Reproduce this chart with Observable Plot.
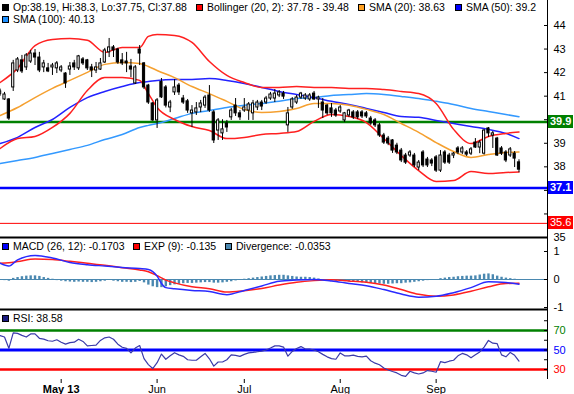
<!DOCTYPE html>
<html><head><meta charset="utf-8">
<script src="https://cdn.jsdelivr.net/npm/d3@7"></script>
<script src="https://cdn.jsdelivr.net/npm/@observablehq/plot@0.6"></script>
<style>
body{margin:0;background:#fff;}
#chart{position:relative;width:574px;height:394px;font-family:"Liberation Sans",Arial,sans-serif;overflow:hidden;background:#fff;}
#chart svg{display:block;}
.leg{position:absolute;font-size:10.5px;line-height:12px;white-space:nowrap;color:#000;}
.sq{position:absolute;width:5px;height:5px;border:1px solid #000;}
.lvl{position:absolute;left:548px;height:13px;line-height:13px;font-size:11px;color:#fff;padding:0 2px;}
</style></head><body><div id="chart"></div>
<script>
// ---- data ----
const xDomain = [0.083, 125.54];
const monthTicks = [14, 36, 56, 78, 100];
const monthLabels = ["May 13", "Jun", "Jul", "Aug", "Sep"];

const open = [41.1,40.86,40.86,41.37,42.09,42.52,42.22,42.47,42.81,42.64,
42.22,42.18,42.22,42.18,42.09,41.96,42.13,42.39,42.18,42.56,
42.52,42.22,42.09,42.13,42.43,42.86,43.07,42.98,42.52,42.47,
42.26,41.54,42.98,42.39,41.45,40.69,39.97,41.6,41.37,40.52,
41.16,41.45,40.9,40.78,40.27,40.31,40.52,40.6,41.03,40.31,
39.54,39.42,39.84,40.1,40.6,40.27,40.39,40.39,40.27,40.52,
40.73,40.73,40.9,40.9,41.03,41.11,39.76,40.52,40.73,40.94,
40.9,40.86,41.11,40.86,40.73,40.6,40.48,40.39,40.35,39.97,
40.18,40.31,40.31,40.31,40.27,40.05,39.97,39.76,39.33,39.2,
39.12,38.9,38.69,38.48,38.48,38.48,37.97,38.61,38.31,38.27,
38.4,37.84,38.61,38.48,38.48,38.78,38.61,38.61,38.56,39.03,
38.82,38.56,39.63,39.33,39.2,38.78,38.61,38.48,38.56,38.19];
const high = [41.3,41.16,40.9,42.52,42.64,42.73,42.81,42.94,42.98,42.86,
42.52,42.39,42.39,42.47,42.3,42.0,42.43,42.52,42.73,42.64,
42.56,42.35,42.43,42.6,43.03,43.45,43.15,43.03,42.81,42.86,
42.56,42.3,43.15,42.43,41.5,40.73,40.9,41.75,41.45,40.82,
41.7,41.54,41.03,40.86,40.6,40.73,40.82,41.03,41.45,40.39,
40.05,40.0,39.97,40.48,40.9,40.39,40.9,40.73,40.82,40.82,
40.82,40.99,41.16,41.28,41.24,41.2,40.52,40.94,41.03,41.16,
41.11,41.11,41.2,41.0,40.9,40.65,40.69,40.48,40.6,40.31,
40.44,40.39,40.39,40.39,40.35,40.14,40.05,39.84,39.42,39.29,
39.16,39.0,38.78,38.57,38.69,38.57,38.27,38.69,38.4,38.35,
38.48,38.69,38.69,38.57,38.61,38.86,38.86,38.69,38.82,39.2,
39.12,39.59,39.67,39.5,39.25,38.86,38.69,38.82,38.65,38.3];
const low = [41.0,40.82,39.97,41.2,42.0,41.96,42.09,42.39,42.3,42.0,
42.0,42.0,41.88,41.96,42.0,41.33,41.88,42.09,42.09,42.3,
42.09,41.79,41.96,42.09,42.39,42.64,42.64,42.35,42.3,42.0,
41.79,41.5,42.3,41.28,40.65,39.93,39.63,40.9,40.5,40.3,
41.03,41.03,40.65,40.27,39.67,40.18,40.3,40.48,40.31,38.99,
39.12,39.12,39.46,39.97,40.14,39.97,40.31,39.97,39.97,40.39,
40.39,40.65,40.82,40.73,40.94,40.86,39.46,40.44,40.65,40.86,
40.82,40.78,40.82,40.48,40.05,40.18,40.1,40.1,40.27,39.88,
40.1,40.01,40.01,40.05,40.05,39.76,39.67,39.25,38.95,38.9,
38.57,38.52,38.18,38.1,38.4,37.97,37.84,37.97,37.97,38.01,
37.76,37.76,38.1,38.1,38.35,38.52,38.52,38.44,38.48,38.78,
38.56,38.5,39.25,38.78,38.44,38.48,38.18,38.4,37.97,37.75];
const close = [41.2,41.07,40.05,42.39,42.56,42.05,42.73,42.81,42.64,42.09,
42.39,42.05,42.3,42.39,42.22,41.54,42.26,42.22,42.69,42.39,
42.18,42.09,42.22,42.39,42.94,43.07,42.94,42.43,42.39,42.39,
42.13,42.22,42.81,41.37,40.73,39.97,40.82,40.95,40.6,40.73,
41.37,41.16,40.73,40.39,40.39,40.48,40.69,40.94,40.39,39.12,
39.97,39.59,39.67,40.39,40.27,40.1,40.52,40.65,40.69,40.73,
40.56,40.9,41.07,41.11,41.16,40.98,40.27,40.86,40.94,41.11,
41.03,41.03,40.86,40.94,40.39,40.27,40.27,40.18,40.52,40.27,
40.39,40.1,40.1,40.14,40.14,39.84,39.76,39.33,39.03,38.99,
38.69,38.61,38.27,38.18,38.61,38.06,38.18,38.06,38.06,38.14,
37.84,38.48,38.18,38.18,38.56,38.61,38.78,38.52,38.74,38.82,
39.03,39.54,39.42,39.42,38.48,38.56,38.27,38.74,38.35,37.88];

const smoothIdx = [0,4,8,12,16,20,24,28,32,34,36,40,44,48,52,56,60,64,68,72,76,80,84,88,92,96,100,104,108,112,116,119];
const bbUpper = [41.58,42.18,43.15,43.41,43.45,43.37,42.86,43.07,43.07,43.54,43.62,43.58,43.28,42.47,41.88,41.58,41.37,41.37,41.41,41.37,41.37,41.33,41.33,41.28,41.2,41.11,40.69,39.59,38.99,39.29,39.42,39.48];
const bbLower = [38.78,39.2,39.29,39.67,40.27,41.24,41.79,41.79,41.67,41.11,40.52,40.01,39.71,39.54,39.2,39.25,39.37,39.42,39.5,39.93,40.22,40.14,39.88,39.2,38.48,37.84,37.38,37.42,37.8,37.72,37.76,37.78];
const sma20 = [40.18,40.52,40.94,41.33,41.67,42.01,42.35,42.43,42.39,42.26,42.09,41.79,41.41,41.11,40.78,40.44,40.31,40.35,40.48,40.69,40.69,40.61,40.44,40.22,39.84,39.46,39.03,38.65,38.4,38.52,38.61,38.63];
const sma50 = [38.99,39.25,39.67,40.01,40.52,40.94,41.2,41.41,41.58,41.62,41.67,41.71,41.71,41.75,41.67,41.54,41.37,41.2,41.07,40.94,40.78,40.65,40.48,40.31,40.14,40.1,39.97,39.84,39.71,39.59,39.42,39.2];
const sma100 = [38.14,38.27,38.4,38.57,38.74,38.91,39.16,39.37,39.67,39.76,39.84,40.05,40.27,40.39,40.52,40.61,40.69,40.78,40.9,40.94,41.03,41.07,41.11,41.07,40.99,40.9,40.78,40.65,40.48,40.35,40.22,40.13];

const macdIdx = [0,2,4,8,12,16,20,24,28,32,34,36,37,38,40,44,48,52,56,60,64,68,72,76,80,84,88,92,96,100,104,108,112,116,119];
const macdLine = [0.58,0.48,0.70,0.86,0.77,0.61,0.53,0.48,0.43,0.39,0.36,0.12,-0.14,-0.29,-0.33,-0.39,-0.43,-0.54,-0.39,-0.23,-0.06,-0.02,0.0,-0.05,-0.14,-0.22,-0.36,-0.52,-0.63,-0.6,-0.47,-0.29,-0.08,-0.11,-0.17];
const signalLine = [0.58,0.6,0.64,0.73,0.71,0.65,0.58,0.51,0.42,0.34,0.28,0.14,0.06,-0.02,-0.12,-0.26,-0.33,-0.45,-0.4,-0.32,-0.2,-0.1,-0.04,-0.01,-0.05,-0.1,-0.2,-0.36,-0.53,-0.6,-0.55,-0.42,-0.26,-0.14,-0.135];
const divergence = [-0.03,-0.04,-0.06,0.04,0.07,0.1,0.12,0.13,0.13,0.11,
0.07,0.04,0.01,-0.04,-0.06,-0.08,-0.09,-0.1,-0.09,-0.1,
-0.1,-0.11,-0.1,-0.08,-0.06,-0.03,-0.06,-0.08,-0.1,-0.1,
-0.11,-0.1,-0.07,-0.12,-0.2,-0.26,-0.29,-0.29,-0.26,-0.22,
-0.19,-0.17,-0.15,-0.14,-0.14,-0.13,-0.12,-0.11,-0.11,-0.13,
-0.13,-0.12,-0.1,-0.08,-0.05,-0.02,0.01,0.03,0.05,0.07,
0.09,0.11,0.13,0.14,0.15,0.15,0.13,0.11,0.09,0.08,
0.08,0.07,0.05,0.02,-0.03,-0.05,-0.05,-0.06,-0.07,-0.08,
-0.09,-0.1,-0.1,-0.12,-0.13,-0.14,-0.15,-0.16,-0.17,-0.17,
-0.16,-0.15,-0.15,-0.13,-0.12,-0.1,-0.08,-0.06,-0.04,-0.02,
0.0,0.03,0.05,0.07,0.08,0.1,0.11,0.12,0.12,0.13,
0.16,0.19,0.2,0.17,0.12,0.08,0.05,0.03,0.01,-0.035];
const rsi = [64.7,63.3,51.7,67.5,67,65,63.3,66.5,66.5,62,
61.2,59.5,59,60.5,58,56,57.5,58,61,58.8,
54.2,54.6,55,59.8,62.5,63.3,61,56,52.8,51.7,
47,52,54.6,41.2,35,31,37,45.8,40.5,44,
47.2,45,43.5,40,39.5,39.5,43,46.5,41,33.5,
37.7,37.7,40,45,44.5,43.5,45.5,47,47.5,48.2,
48.8,50,52,54.2,54.2,53,43.7,48.5,51.5,53.5,
51,51,50,48.2,45.5,43,41.2,40.5,47,44,
44,44.7,43.5,43,43.7,39,36.5,34.9,31.5,29.5,
27.9,26.5,24,23,28.2,26.5,25.4,26.5,28.9,28.2,
27.2,38,37,38.5,39.5,44,46.5,45,42,45,
48,53,59.8,57,56.5,45,43,47.5,44.5,38.58];

const priceTicks = [35,36,37,38,39,40,41,42,43,44];
const priceLabelTicks = [35,38,39,41,42,43,44];
const levelValues = [39.9, 37.1, 35.6];
const levelColors = ["#008000", "#0000ff", "#ff0000"];
const macdTicks = [-1, 0, 1];
const rsiTicks = [30,40,50,60,70,80];
const rsiLevels = [70, 50, 30];
const rsiLevelColors = ["#008000", "#0000ff", "#ff0000"];

// ---- build ----
const FONT = '"Liberation Sans", Arial, sans-serif';
const chart = document.getElementById("chart");
const candles = open.map((o, i) => ({i, o, h: high[i], l: low[i], c: close[i], fill: close[i] >= o ? "#ffffff" : "#000000"}));
const smooth = vals => smoothIdx.map((i, k) => ({i, v: vals[k]}));
const macdTab = vals => macdIdx.map((i, k) => ({i, v: vals[k]}));
const divTab = divergence.map((v, i) => ({i, v}));
const rsiTab = rsi.map((v, i) => ({i, v}));
const baseStyle = {fontFamily: FONT, fontSize: "11px", overflow: "visible", background: "transparent"};
const rightLine = () => Plot.ruleX([xDomain[1]], {stroke: "#000", strokeWidth: 1});
const fmt = d => String(d);

const priceDomain = [35, 44];
const price = Plot.plot({
  width: 574, height: 238, marginLeft: 0, marginRight: 27, marginTop: 0, marginBottom: 0,
  style: baseStyle,
  color: {type: "identity"},
  x: {domain: xDomain, axis: null},
  y: {domain: priceDomain, range: [237, 25]},
  marks: [
    Plot.ruleY([levelValues[2]], {stroke: levelColors[2], strokeWidth: 1}),
    Plot.ruleY([levelValues[1]], {stroke: levelColors[1], strokeWidth: 2.5}),
    Plot.ruleY([levelValues[0]], {stroke: levelColors[0], strokeWidth: 2.5}),
    Plot.line(smooth(sma100), {x: "i", y: "v", stroke: "#3399ff", strokeWidth: 1.5, curve: "monotone-x"}),
    Plot.line(smooth(sma50), {x: "i", y: "v", stroke: "#2222ff", strokeWidth: 1.5, curve: "monotone-x"}),
    Plot.line(smooth(sma20), {x: "i", y: "v", stroke: "#f5a030", strokeWidth: 1.5, curve: "monotone-x"}),
    Plot.line(smooth(bbUpper), {x: "i", y: "v", stroke: "#ff2020", strokeWidth: 1.5, curve: "monotone-x"}),
    Plot.line(smooth(bbLower), {x: "i", y: "v", stroke: "#ff2020", strokeWidth: 1.5, curve: "monotone-x"}),
    Plot.ruleX(candles, {x: "i", y1: "l", y2: "h", stroke: "#000", strokeWidth: 1}),
    Plot.rect(candles, {x1: d => d.i - 0.25, x2: d => d.i + 0.25, y1: "o", y2: "c", fill: "fill", stroke: "#000", strokeWidth: 1}),
    Plot.ruleY([priceDomain[0]], {stroke: "#000", strokeWidth: 2}),
    rightLine(),
    Plot.axisY(priceTicks, {anchor: "right", label: null, tickSize: 4, dx: -4, tickFormat: () => ""}),
    Plot.axisY(priceLabelTicks, {anchor: "right", label: null, tickSize: 0, tickPadding: 6, tickFormat: fmt})
  ]
});

const macdDomain = [-1.071, 1.464];
const macd = Plot.plot({
  width: 574, height: 74, marginLeft: 0, marginRight: 27, marginTop: 0, marginBottom: 0,
  style: baseStyle,
  x: {domain: xDomain, axis: null},
  y: {domain: macdDomain, range: [71, 0]},
  marks: [
    Plot.ruleY([0], {stroke: "#4a88b0", strokeWidth: 1}),
    Plot.ruleX(divTab, {x: "i", y1: 0, y2: "v", stroke: "#4a88b0", strokeWidth: 2.4}),
    Plot.line(macdTab(signalLine), {x: "i", y: "v", stroke: "#ff2020", strokeWidth: 1.5, curve: "monotone-x"}),
    Plot.line(macdTab(macdLine), {x: "i", y: "v", stroke: "#2a2aff", strokeWidth: 1.5, curve: "monotone-x"}),
    Plot.ruleY([macdDomain[0]], {stroke: "#000", strokeWidth: 2}),
    rightLine(),
    Plot.axisY(macdTicks, {anchor: "right", label: null, tickSize: 4, dx: -4, tickFormat: () => ""}),
    Plot.axisY(macdTicks, {anchor: "right", label: null, tickSize: 0, tickPadding: 6, tickFormat: fmt})
  ]
});

const rsiDomain = [19.74, 90.51];
const rsiPlot = Plot.plot({
  width: 574, height: 82, marginLeft: 0, marginRight: 27, marginTop: 0, marginBottom: 15,
  style: baseStyle,
  x: {domain: xDomain},
  y: {domain: rsiDomain, range: [67, -2]},
  marks: [
    Plot.ruleY([rsiLevels[0]], {stroke: rsiLevelColors[0], strokeWidth: 2.5}),
    Plot.ruleY([rsiLevels[1]], {stroke: rsiLevelColors[1], strokeWidth: 3}),
    Plot.ruleY([rsiLevels[2]], {stroke: rsiLevelColors[2], strokeWidth: 2.5}),
    Plot.line(rsiTab, {x: "i", y: "v", stroke: "#3a3aaa", strokeWidth: 1.2}),
    rightLine(),
    Plot.axisY(rsiTicks, {anchor: "right", label: null, tickSize: 4, dx: -4, tickFormat: () => ""}),
    Plot.axisY([rsiLevels[0]], {anchor: "right", label: null, tickSize: 0, tickPadding: 6, fill: rsiLevelColors[0], tickFormat: fmt}),
    Plot.axisY([rsiLevels[1]], {anchor: "right", label: null, tickSize: 0, tickPadding: 6, fill: rsiLevelColors[1], tickFormat: fmt}),
    Plot.axisY([rsiLevels[2]], {anchor: "right", label: null, tickSize: 0, tickPadding: 6, fill: rsiLevelColors[2], tickFormat: fmt}),
    Plot.axisX(monthTicks.slice(1), {anchor: "bottom", label: null, tickSize: 4, tickPadding: 2, tickFormat: d => monthLabels[monthTicks.indexOf(d)]}),
    Plot.axisX(monthTicks.slice(0, 1), {anchor: "bottom", label: null, tickSize: 4, tickPadding: 2, fontWeight: "bold", tickFormat: d => monthLabels[monthTicks.indexOf(d)]})
  ]
});

chart.append(price, macd, rsiPlot);

// ---- legends ----
function legendItem(x, y, color, text) {
  const sq = document.createElement("div");
  sq.className = "sq";
  sq.style.left = x + "px"; sq.style.top = (y + 3) + "px"; sq.style.background = color;
  const t = document.createElement("div");
  t.className = "leg";
  t.style.left = (x + 11) + "px"; t.style.top = y + "px";
  t.textContent = text;
  chart.append(sq, t);
}
legendItem(2, 1, "#000000", "Op:38.19, Hi:38.3, Lo:37.75, Cl:37.88");
legendItem(196, 1, "#ff0000", "Bollinger (20, 2): 37.78 - 39.48");
legendItem(358, 1, "#ffa020", "SMA (20): 38.63");
legendItem(455, 1, "#0000ff", "SMA (50): 39.2");
legendItem(2, 13, "#1e90ff", "SMA (100): 40.13");
legendItem(2, 240, "#0000ff", "MACD (26, 12): -0.1703");
legendItem(133, 240, "#ff0000", "EXP (9): -0.135");
legendItem(225, 240, "#4a88b0", "Divergence: -0.0353");
legendItem(2, 312, "#1a1a80", "RSI: 38.58");

// ---- level labels on the price axis ----
const ys = price.scale("y");
levelValues.forEach((v, k) => {
  const d = document.createElement("div");
  d.className = "lvl";
  d.style.top = (ys.apply(v) - 6.5) + "px";
  d.style.background = levelColors[k];
  d.style.fontWeight = k < 2 ? "bold" : "normal";
  d.textContent = String(v);
  chart.append(d);
});
</script></body></html>
